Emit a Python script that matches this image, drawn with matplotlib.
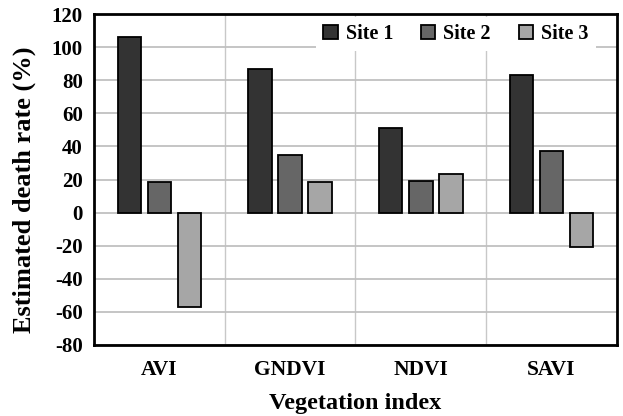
import matplotlib
matplotlib.use("Agg")
import matplotlib.pyplot as plt
import numpy as np

categories = ["AVI", "GNDVI", "NDVI", "SAVI"]
site1 = [106, 87, 51, 83]
site2 = [18.5, 35, 19, 37]
site3 = [-57, 18.5, 23.5, -20.5]
series_names = ["Site 1", "Site 2", "Site 3"]
colors = ["#333333", "#666666", "#a6a6a6"]
yticks = [-80, -60, -40, -20, 0, 20, 40, 60, 80, 100, 120]

plt.rcParams['font.family'] = ['Liberation Serif', 'DejaVu Serif']
plt.rcParams['font.weight'] = 'bold'

fig = plt.figure(figsize=(6.23, 4.16), dpi=100)
ax = fig.add_axes([0.151, 0.1707, 0.839, 0.7953])

x = np.arange(len(categories))
w = 0.18
step = 0.23
for i, (vals, name, c) in enumerate(zip([site1, site2, site3], series_names, colors)):
    ax.bar(x + (i - 1) * step, vals, width=w, color=c, edgecolor='black',
           linewidth=1.3, label=name, zorder=3)

ax.set_xlim(-0.5, 3.5)
ax.set_ylim(-80, 120)
ax.set_yticks(yticks)
ax.set_yticklabels([str(t) for t in yticks], fontsize=15, fontweight='bold')
ax.set_xticks(x)
ax.set_xticklabels(categories, fontsize=15.5, fontweight='bold')
ax.set_xticks([0.5, 1.5, 2.5], minor=True)
ax.tick_params(axis='both', which='both', length=0)
ax.tick_params(axis='x', which='major', pad=11)
ax.tick_params(axis='y', pad=8)

ax.grid(axis='y', which='major', color='#c0c0c0', linewidth=1.3, zorder=0)
ax.grid(axis='x', which='minor', color='#c8c8c8', linewidth=1.0, zorder=0)
ax.grid(axis='x', which='major', visible=False)
ax.set_axisbelow(True)

for s in ax.spines.values():
    s.set_linewidth(2)
    s.set_color('black')

ax.set_xlabel("Vegetation index", fontsize=17.5, fontweight='bold')
ax.xaxis.set_label_coords(0.5, -0.1934)
ax.xaxis.label.set_va('baseline')
ax.set_ylabel("Estimated death rate (%)", fontsize=19, fontweight='bold')
ax.yaxis.set_label_coords(-0.134, 0.468)
ax.yaxis.label.set_va('center')

leg = ax.legend(loc='upper right', ncol=3, frameon=True, fancybox=False,
                prop={'size': 14.5, 'weight': 'bold'}, handlelength=0.7,
                handleheight=0.7, handletextpad=0.4, columnspacing=1.4,
                borderpad=0.35, borderaxespad=0.15, bbox_to_anchor=(0.9656, 1.0))
leg.get_frame().set_facecolor('white')
leg.get_frame().set_edgecolor('none')
leg.get_frame().set_alpha(1.0)
leg.set_zorder(5)

fig.savefig("out.png", dpi=100)
